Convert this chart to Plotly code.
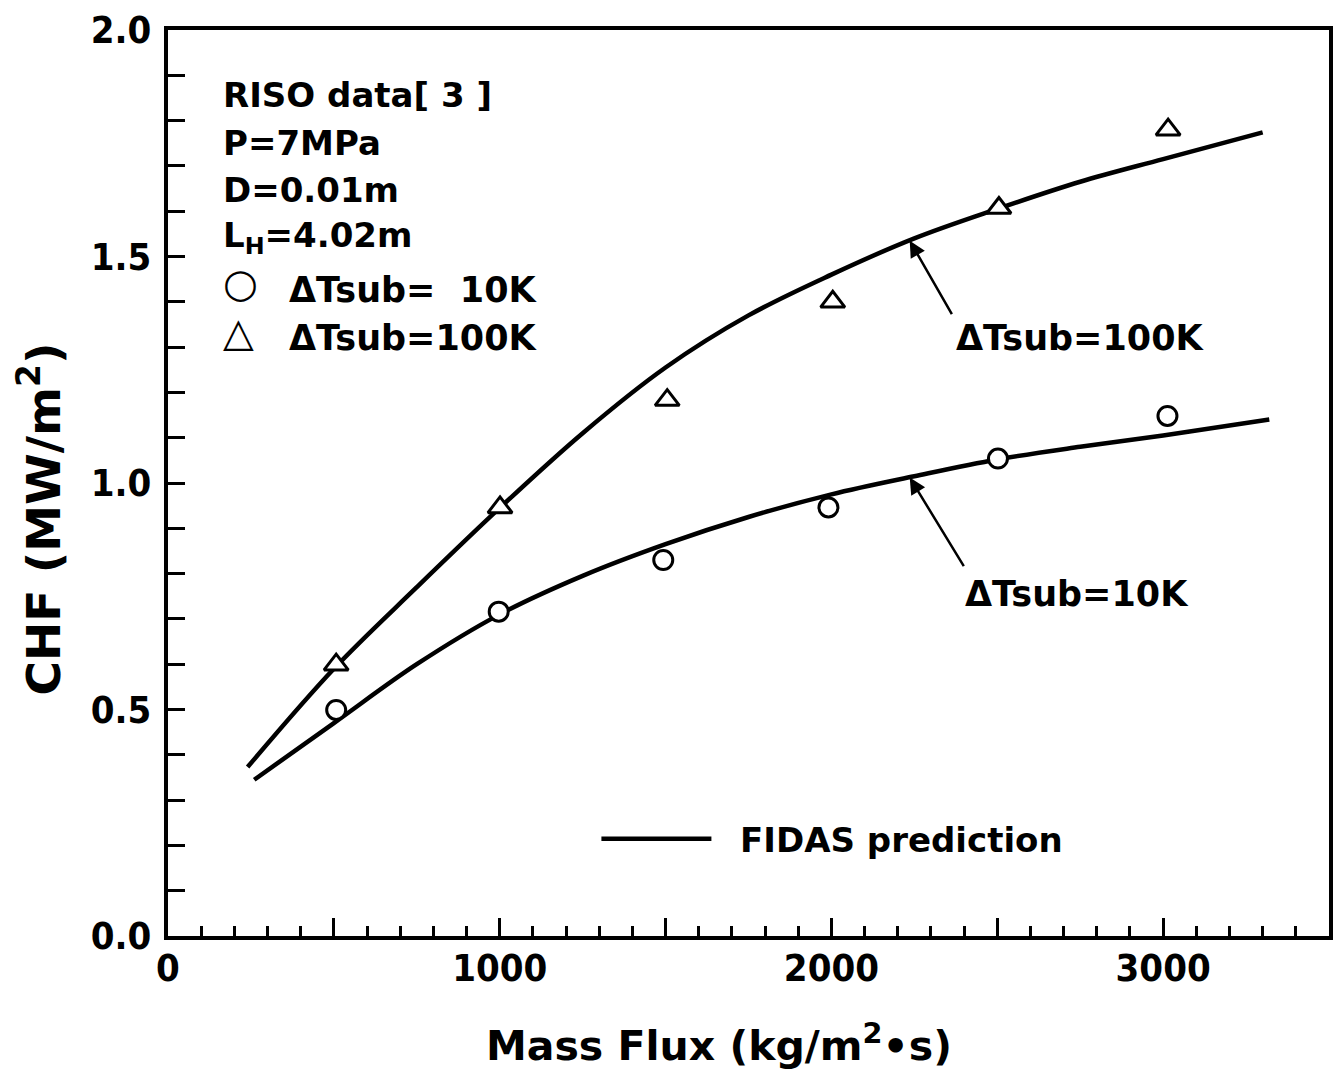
import plotly.graph_objects as go

# Measured CHF data (RISO), P = 7 MPa, D = 0.01 m, heated length 4.02 m
mass_flux_10K = [507, 997, 1493, 1991, 2502, 3013]
chf_10K = [0.499, 0.716, 0.830, 0.946, 1.054, 1.148]

mass_flux_100K = [507, 1001, 1505, 2004, 2505, 3015]
chf_100K = [0.599, 0.946, 1.183, 1.400, 1.607, 1.780]

# FIDAS predicted CHF curves
pred_flux_10K = [260, 500, 750, 1000, 1250, 1500, 1750, 2000, 2250, 2500, 2750, 3000, 3320]
pred_chf_10K = [0.345, 0.47, 0.60, 0.71, 0.795, 0.865, 0.925, 0.975, 1.015, 1.052, 1.08, 1.105, 1.14]

pred_flux_100K = [240, 500, 750, 1000, 1250, 1500, 1750, 2000, 2250, 2500, 2750, 3000, 3300]
pred_chf_100K = [0.373, 0.59, 0.77, 0.945, 1.11, 1.255, 1.37, 1.46, 1.54, 1.605, 1.665, 1.715, 1.774]

# Axis ticks
x_tick_vals = [0, 500, 1000, 1500, 2000, 2500, 3000, 3500]
x_tick_text = ["0", "", "1000", "", "2000", "", "3000", ""]
y_tick_vals = [0.0, 0.5, 1.0, 1.5, 2.0]
y_tick_text = ["0.0", "0.5", "1.0", "1.5", "2.0"]

# Curve labels and the points on the curves their arrows point to
label_flux = 2236
label_text_100K = "ΔTsub=100K"
label_text_10K = "ΔTsub=10K"

# Key entries for the measured series
key_symbols = ["○", "△"]
key_labels = ["ΔTsub=  10K", "ΔTsub=100K"]

TEXT_FONT = "DejaVu Sans"
NUM_FONT = "Liberation Sans Narrow, DejaVu Sans Condensed, sans-serif"

fig = go.Figure()

fig.add_trace(go.Scatter(
    x=pred_flux_100K, y=pred_chf_100K, mode="lines",
    line=dict(color="black", width=4.5, shape="spline", smoothing=1.0),
    name="  FIDAS prediction", legend="legend2", showlegend=True,
))
fig.add_trace(go.Scatter(
    x=pred_flux_10K, y=pred_chf_10K, mode="lines",
    line=dict(color="black", width=4.5, shape="spline", smoothing=1.0),
    name="  FIDAS prediction", legend="legend2", showlegend=False,
))
fig.add_trace(go.Scatter(
    x=mass_flux_10K, y=chf_10K, mode="markers",
    marker=dict(symbol="circle", size=19, color="white",
                line=dict(color="black", width=3)),
    name=key_labels[0], showlegend=False,
))
fig.add_trace(go.Scatter(
    x=mass_flux_100K, y=chf_100K, mode="markers",
    marker=dict(symbol="triangle-up", size=21, color="white",
                line=dict(color="black", width=3)),
    name=key_labels[1], showlegend=False,
))

annotations = []

# Header text block in the upper-left corner
header_lines = ["RISO data[ 3 ]", "P=7MPa", "D=0.01m", "L<sub>H</sub>=4.02m"]
header_y = [0.9287, 0.8749, 0.8233, 0.7706]
for txt, yy in zip(header_lines, header_y):
    annotations.append(dict(
        text=txt, xref="paper", yref="paper", x=0.046, y=yy,
        xanchor="left", yanchor="middle", showarrow=False,
        font=dict(family=TEXT_FONT, size=34, color="black", weight="bold"),
    ))

# Symbol key for the measured series
key_y = [0.7135, 0.6597]
for sym, lab, yy in zip(key_symbols, key_labels, key_y):
    annotations.append(dict(
        text=sym, xref="paper", yref="paper", x=0.046, y=yy + 0.007,
        xanchor="left", yanchor="middle", showarrow=False,
        font=dict(family=TEXT_FONT, size=40, color="black", weight="bold"),
    ))
    annotations.append(dict(
        text=lab, xref="paper", yref="paper", x=0.1021, y=yy,
        xanchor="left", yanchor="middle", showarrow=False,
        font=dict(family=TEXT_FONT, size=35, color="black", weight="bold"),
    ))

# Arrows pointing at the predicted curves, with their labels
annotations.append(dict(
    x=label_flux, y=1.535, xref="x", yref="y", text="", showarrow=True,
    ax=43, ay=75, arrowhead=2, arrowsize=1.3, arrowwidth=2.5, arrowcolor="black",
))
annotations.append(dict(
    x=label_flux, y=1.012, xref="x", yref="y", text="", showarrow=True,
    ax=55, ay=90, arrowhead=2, arrowsize=1.3, arrowwidth=2.5, arrowcolor="black",
))
annotations.append(dict(
    x=2750, y=1.319, xref="x", yref="y", text=label_text_100K, showarrow=False,
    font=dict(family=TEXT_FONT, size=35, color="black", weight="bold"),
))
annotations.append(dict(
    x=2740, y=0.755, xref="x", yref="y", text=label_text_10K, showarrow=False,
    font=dict(family=TEXT_FONT, size=35, color="black", weight="bold"),
))

# Axis titles
annotations.append(dict(
    text="Mass Flux (kg/m<sup>2</sup>•s)", xref="paper", yref="paper",
    x=0.475, y=-0.118, xanchor="center", yanchor="middle", showarrow=False,
    font=dict(family=TEXT_FONT, size=41, color="black", weight="bold"),
))
annotations.append(dict(
    text="CHF (MW/m<sup>2</sup>)", xref="paper", yref="paper",
    x=-0.110, y=0.46, xanchor="center", yanchor="middle", showarrow=False,
    textangle=-90,
    font=dict(family=TEXT_FONT, size=47, color="black", weight="bold"),
))

fig.update_layout(
    width=1341, height=1075, autosize=False,
    margin=dict(l=168, r=8, t=25, b=139),
    plot_bgcolor="white", paper_bgcolor="white",
    annotations=annotations,
    legend2=dict(
        x=0.369, y=0.107, xanchor="left", yanchor="middle",
        bgcolor="rgba(0,0,0,0)",
        font=dict(family=TEXT_FONT, size=34, color="black", weight="bold"),
        itemwidth=110,
    ),
)

NUM_TICKFONT = dict(family=NUM_FONT, size=38, color="black", weight="bold")

fig.update_xaxes(
    range=[0, 3500], showgrid=False, zeroline=False,
    showline=True, linecolor="black", linewidth=4, mirror=True,
    tickmode="array", tickvals=x_tick_vals, ticktext=x_tick_text,
    ticks="inside", ticklen=18, tickwidth=3, tickcolor="black",
    ticklabelstandoff=-5,
    tickfont=NUM_TICKFONT,
    minor=dict(dtick=100, ticks="inside", ticklen=10, tickwidth=3, tickcolor="black", showgrid=False),
)
fig.update_yaxes(
    range=[0, 2.0], showgrid=False, zeroline=False,
    showline=True, linecolor="black", linewidth=4, mirror=True,
    tickmode="array", tickvals=y_tick_vals, ticktext=y_tick_text,
    ticks="inside", ticklen=17, tickwidth=3, tickcolor="black",
    ticklabelstandoff=5,
    tickfont=NUM_TICKFONT,
    minor=dict(dtick=0.1, ticks="inside", ticklen=17, tickwidth=3, tickcolor="black", showgrid=False),
)

fig.write_html("out.html")
